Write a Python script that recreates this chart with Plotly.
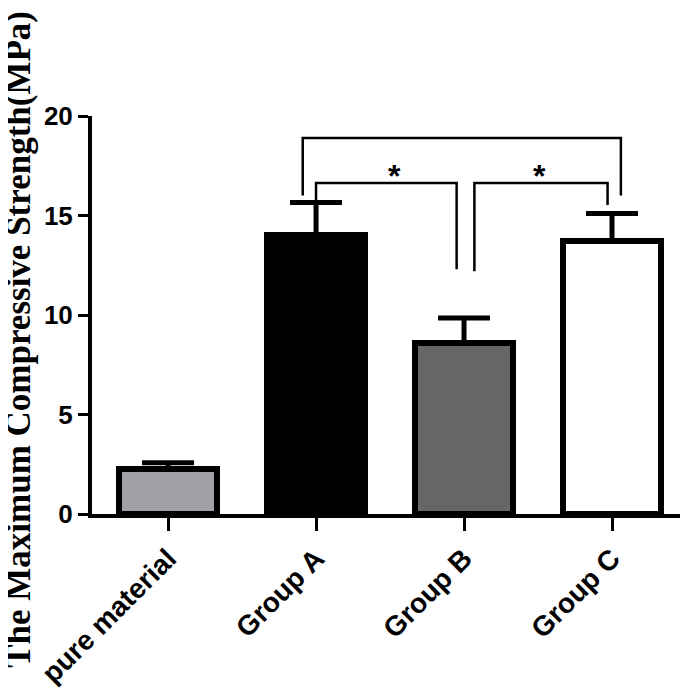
import plotly.graph_objects as go

# ---- data ----
categories = ["pure material", "Group A", "Group B", "Group C"]
means = [2.25, 14.0, 8.6, 13.7]
errors = [0.33, 1.65, 1.25, 1.4]
bar_colors = ["#a1a1a5", "#000000", "#666666", "#ffffff"]
y_ticks = [0, 5, 10, 15, 20]

# significance brackets (x in category index units, y in MPa)
bracket_big_x = [0.91, 0.91, 3.06, 3.06]
bracket_big_y = [16.0, 18.9, 18.9, 16.0]
bracket_ab_x = [1.0, 1.0, 1.95, 1.95]
bracket_ab_y = [15.63, 16.63, 16.63, 12.3]
bracket_bc_x = [2.07, 2.07, 2.97, 2.97]
bracket_bc_y = [12.2, 16.63, 16.63, 15.53]
star_x = [1.53, 2.51]
star_y = [17.0, 17.0]

x_idx = list(range(len(categories)))

fig = go.Figure()
fig.add_trace(go.Bar(
    x=x_idx, y=means, width=0.66,
    marker=dict(color=bar_colors, line=dict(color="black", width=6)),
    error_y=dict(type="data", symmetric=False, array=errors,
                 arrayminus=[0] * len(errors),
                 color="black", thickness=5, width=26),
    showlegend=False, hoverinfo="skip",
))

for bx, by in [(bracket_big_x, bracket_big_y), (bracket_ab_x, bracket_ab_y),
               (bracket_bc_x, bracket_bc_y)]:
    fig.add_trace(go.Scatter(x=bx, y=by, mode="lines",
                             line=dict(color="black", width=2.5),
                             showlegend=False, hoverinfo="skip"))

for sx, sy in zip(star_x, star_y):
    fig.add_annotation(x=sx, y=sy, xref="x", yref="y", text="*",
                       showarrow=False, xanchor="center", yanchor="middle",
                       font=dict(family="Liberation Sans, Arial", size=32,
                                 color="black", weight="bold"))

fig.add_annotation(
    text="The Maximum Compressive Strength(MPa)",
    xref="paper", yref="paper", x=-0.123, y=0.44,
    xanchor="center", yanchor="middle", textangle=-90, showarrow=False,
    font=dict(family="Liberation Serif, Times New Roman, serif", size=35,
              color="black", weight="bold"),
)

fig.update_layout(
    width=688, height=692,
    margin=dict(l=84, r=10, t=108, b=186),
    plot_bgcolor="white", paper_bgcolor="white",
    bargap=0,
)
fig.update_xaxes(
    range=[-0.514, 3.5], tickmode="array", tickvals=x_idx, ticktext=categories,
    tickangle=-45, ticks="outside", ticklen=13, tickwidth=3, tickcolor="black",
    showline=True, linecolor="black", linewidth=4, showgrid=False, zeroline=False,
    tickfont=dict(family="Liberation Sans, Arial", size=28, color="black",
                  weight="bold"),
)
fig.update_yaxes(
    range=[0, 20], tickmode="array", tickvals=y_ticks,
    ticks="outside", ticklen=10, tickwidth=3, tickcolor="black",
    showline=True, linecolor="black", linewidth=4, showgrid=False, zeroline=False,
    tickfont=dict(family="Liberation Sans, Arial", size=26, color="black",
                  weight="bold"),
)

fig.write_html("out.html")
